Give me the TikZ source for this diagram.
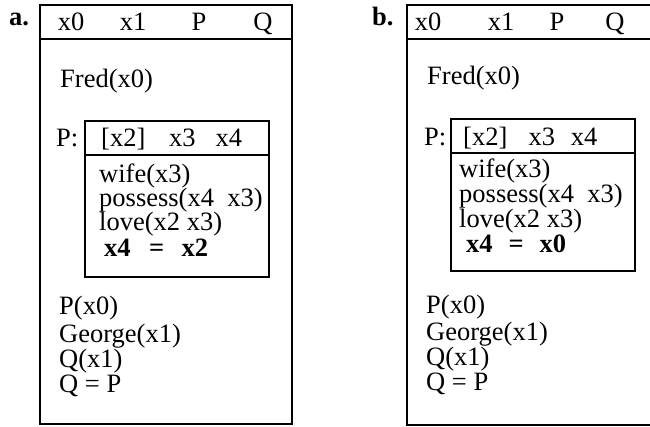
\documentclass[tikz,border=0pt]{standalone}
\usepackage{fontspec}
\setmainfont{Liberation Serif}
\begin{document}
\begin{tikzpicture}[x=1pt, y=-1pt, line width=2.4pt,
    txt/.style={anchor=base west, inner sep=0pt, font=\fontsize{26.5}{30}\selectfont},
    hd/.style={anchor=base, inner sep=0pt, font=\fontsize{26.5}{30}\selectfont}]
\useasboundingbox (0,0) rectangle (650,427);
% boxes of a
\draw (40,5) rectangle (292,424);
\draw (40,39) -- (292,39);
\draw (85,121) rectangle (269,277);
\draw (85,155) -- (269,155);
% boxes of b (right side runs off the page)
\draw (650,5) -- (407,5) -- (407,425) -- (650,425);
\draw (407,39) -- (650,39);
\draw (451,119) rectangle (635,271);
\draw (451,153) -- (635,153);
% nodes of a
\node[txt, font=\fontsize{26.5}{30}\selectfont\bfseries] (la) at (8,26) {a.};
\node[hd] (ax0) at (71,31) {x0};
\node[hd] (ax1) at (133,31) {x1};
\node[hd] (aP) at (199,31) {P};
\node[hd] (aQ) at (263,31) {Q};
\node[txt] (afred) at (59,88) {Fred(x0)};
\node[txt] (aPl) at (55,147) {P:};
\node[txt] (ahead) at (100,147) {[x2]\hspace{0.9em}x3\hspace{0.75em}x4};
\node[txt] (awife) at (98,183) {wife(x3)};
\node[txt] (apos) at (98,207) {possess(x4\hspace{0.5em}x3)};
\node[txt] (alove) at (98,231) {love(x2 x3)};
\node[txt, font=\fontsize{26.5}{30}\selectfont\bfseries] (aeq) at (103,257) {x4\hspace{0.7em}=\hspace{0.65em}x2};
\node[txt] (aPx) at (58,315) {P(x0)};
\node[txt] (ageo) at (58,342) {George(x1)};
\node[txt] (aQx) at (58,367) {Q(x1)};
\node[txt] (aQP) at (58,392) {Q = P};
% nodes of b
\node[txt, font=\fontsize{26.5}{30}\selectfont\bfseries] (lb) at (371,26) {b.};
\node[hd] (bx0) at (428,31) {x0};
\node[hd] (bx1) at (501,31) {x1};
\node[hd] (bP) at (557,31) {P};
\node[hd] (bQ) at (615,31) {Q};
\node[txt] (bfred) at (426,85) {Fred(x0)};
\node[txt] (bPl) at (423,146) {P:};
\node[txt] (bhead) at (462,146) {[x2]\hspace{0.8em}x3\hspace{0.6em}x4};
\node[txt] (bwife) at (458,178) {wife(x3)};
\node[txt] (bpos) at (458,203) {possess(x4\hspace{0.5em}x3)};
\node[txt] (blove) at (458,228) {love(x2 x3)};
\node[txt, font=\fontsize{26.5}{30}\selectfont\bfseries] (beq) at (465,253) {x4\hspace{0.6em}=\hspace{0.6em}x0};
\node[txt] (bPx) at (425,313) {P(x0)};
\node[txt] (bgeo) at (425,340) {George(x1)};
\node[txt] (bQx) at (425,365) {Q(x1)};
\node[txt] (bQP) at (425,390) {Q = P};
\end{tikzpicture}
\end{document}
